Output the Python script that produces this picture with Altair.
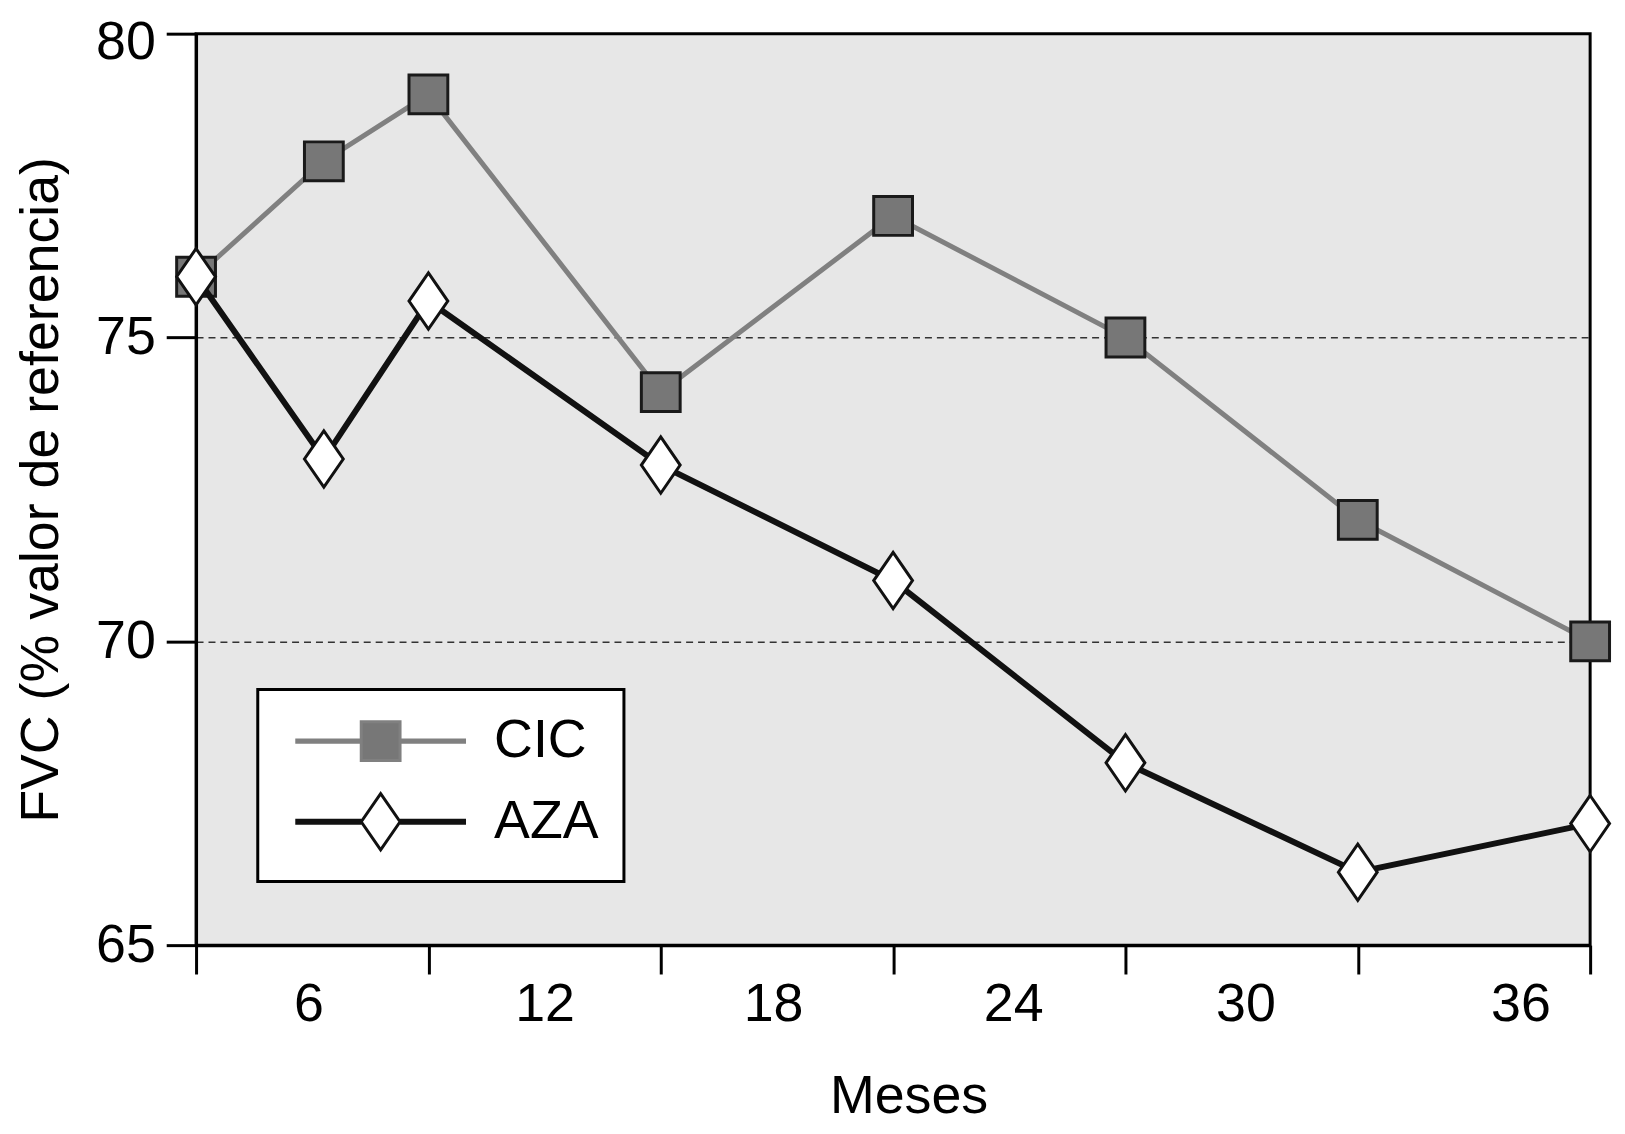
import altair as alt
import pandas as pd

# ---- data ----
months = [0, 3.3, 6, 12, 18, 24, 30, 36]
cic = [76, 77.9, 79, 74.1, 77, 75, 72, 70]
aza = [76, 73, 75.6, 72.9, 71, 68, 66.2, 67]
series_names = ["CIC", "AZA"]

x_tick_values = [0, 6, 12, 18, 24, 30, 36]
x_label_positions = [2.9, 9, 14.9, 21.1, 27.1, 34.2]
x_label_text = ["6", "12", "18", "24", "30", "36"]
y_tick_values = [65, 70, 75, 80]
y_ref_values = [70, 75]

df = pd.DataFrame({
    "month": months + months,
    "value": cic + aza,
    "series": [series_names[0]] * len(months) + [series_names[1]] * len(months),
})

FONT = "Liberation Sans, Arial, Helvetica, sans-serif"
FS = 54

SQUARE = "M-1,-1H1V1H-1Z"
DIAMOND = "M0,-1.45L1,0L0,1.45L-1,0Z"
LEG_CIC = "M-4.4,-0.06H-1M-4.4,0.06H-1M1,-0.06H4.4M1,0.06H4.4M-1,-1H1V1H-1Z"
LEG_AZA = "M-4.4,-0.08H-1M-4.4,0.08H-1M1,-0.08H4.4M1,0.08H4.4M0,-1.45L1,0L0,1.45L-1,0Z"

label_expr = " : ".join(
    f"datum.value == {p} ? '{t}'" for p, t in zip(x_label_positions, x_label_text)
) + " : ''"
tick_test = "indexof([" + ",".join(str(v) for v in x_tick_values) + "], datum.value) >= 0"
grid_test = " || ".join(f"datum.value == {v}" for v in y_ref_values)
top_label_test = f"datum.value == {max(y_tick_values)}"

x_axis = alt.Axis(
    values=sorted(x_tick_values + x_label_positions),
    labelExpr=label_expr,
    tickOpacity={"condition": {"test": tick_test, "value": 1}, "value": 0},
    tickSize=29, tickWidth=3, tickColor="black",
    domainColor="black", domainWidth=3,
    labelFont=FONT, labelFontSize=FS, labelColor="black", labelPadding=4,
    labelOverlap=False, labelFlush=False,
    grid=False,
    title="Meses", titleFont=FONT, titleFontSize=FS, titleFontWeight="normal",
    titleColor="black", titlePadding=38, titleX=716,
)
y_axis = alt.Axis(
    values=y_tick_values, format="d",
    tickSize=30, tickWidth=3, tickColor="black",
    domainColor="black", domainWidth=3,
    labelFont=FONT, labelFontSize=FS, labelColor="black", labelPadding=11,
    labelOffset={"condition": {"test": top_label_test, "value": 9}, "value": 0},
    grid=True,
    gridOpacity={"condition": {"test": grid_test, "value": 1}, "value": 0},
    gridDash=[7, 5], gridColor="#333333", gridWidth=1.5,
    title="FVC (% valor de referencia)", titleFont=FONT, titleFontSize=FS,
    titleFontWeight="normal", titleColor="black", titlePadding=27,
)

base = alt.Chart(df).encode(
    x=alt.X("month:Q", scale=alt.Scale(domain=[0, 36], nice=False, zero=False), axis=x_axis),
    y=alt.Y("value:Q", scale=alt.Scale(domain=[65, 80], nice=False, zero=False), axis=y_axis),
)

is_cic = alt.datum.series == series_names[0]
is_aza = alt.datum.series == series_names[1]

cic_line = base.transform_filter(is_cic).mark_line(color="#808080", strokeWidth=5)
cic_pts = base.transform_filter(is_cic).mark_point(
    shape=SQUARE, filled=True, fill="#777777", stroke="#1a1a1a",
    strokeWidth=3, size=1521, opacity=1)
aza_line = base.transform_filter(is_aza).mark_line(color="#111111", strokeWidth=6)
aza_pts = base.transform_filter(is_aza).mark_point(
    shape=DIAMOND, filled=True, fill="white", stroke="#111111",
    strokeWidth=3, size=1521, opacity=1)

leg = dict(
    orient="none", legendX=62, legendY=659, title=None,
    padding=25, fillColor="white", strokeColor="black",
    symbolSize=1521, symbolStrokeWidth=3, symbolOffset=71.5, symbolOpacity=1,
    labelOffset=87, labelFont=FONT, labelFontSize=FS, labelColor="black",
    rowPadding=19, labelLimit=400,
)

legend_layer = base.transform_filter("datum.month < 0").mark_point(
    size=1521, strokeWidth=3, opacity=1
).encode(
    color=alt.Color("series:N", scale=alt.Scale(domain=series_names, range=["#808080", "#111111"]),
                    legend=alt.Legend(**leg)),
    fill=alt.Fill("series:N", scale=alt.Scale(domain=series_names, range=["#777777", "white"]),
                  legend=alt.Legend(**leg)),
    shape=alt.Shape("series:N", scale=alt.Scale(domain=series_names, range=[LEG_CIC, LEG_AZA]),
                    legend=alt.Legend(**leg)),
)

chart = alt.layer(cic_line, cic_pts, aza_line, aza_pts, legend_layer).properties(
    width=1401, height=916,
    autosize=alt.AutoSizeParams(type="none"),
    padding={"left": 189, "top": 23, "right": 27, "bottom": 187},
).configure_view(
    fill="#e7e7e7", stroke="black", strokeWidth=3,
).configure_legend(
    strokeWidth=3,
)

chart.save("out.html", embed_options={"renderer": "svg", "actions": False})
